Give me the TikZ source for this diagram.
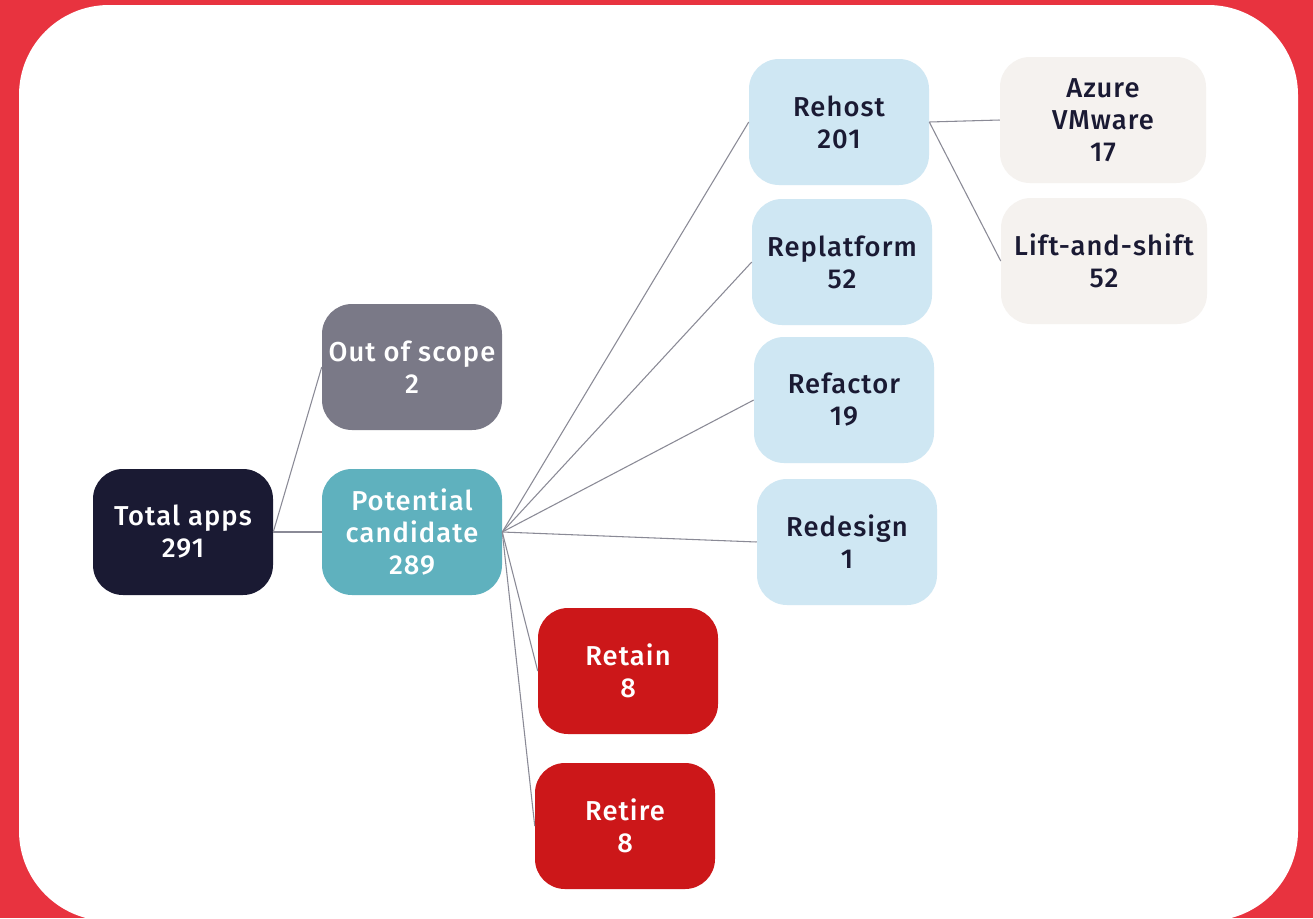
\documentclass[tikz,border=0pt]{standalone}
\usepackage{fontspec}
\setmainfont{Fira Sans}[UprightFont=* Medium, BoldFont=* SemiBold, LetterSpace=4]
\usepackage{tikz}

\definecolor{bgred}{HTML}{E8333F}
\definecolor{navy}{HTML}{1A1A33}
\definecolor{slate}{HTML}{7A7987}
\definecolor{teal}{HTML}{5FB1BE}
\definecolor{paleblue}{HTML}{CFE7F3}
\definecolor{cream}{HTML}{F5F2EF}
\definecolor{boxred}{HTML}{CC1719}
\definecolor{linegrey}{HTML}{8A8A96}

\tikzset{
	box/.style={rounded corners=22.5pt, minimum width=135pt, minimum height=94.5pt,
		align=center, inner sep=2pt, font=\fontsize{20.5}{24}\selectfont},
	darkbox/.style={box, fill=navy, text=white},
	greybox/.style={box, fill=slate, text=white},
	tealbox/.style={box, fill=teal, text=white},
	bluebox/.style={box, fill=paleblue, text=navy},
	creambox/.style={box, fill=cream, text=navy, minimum width=154.5pt},
	redbox/.style={box, fill=boxred, text=white},
	link/.style={draw=linegrey, line width=0.8pt}
}

\begin{document}
\begin{tikzpicture}[x=0.75pt, y=-0.75pt]
	\useasboundingbox (0,0) rectangle (1313,918);
	\fill [bgred] (0,0) rectangle (1313,918);
	\fill [white, rounded corners=67.5pt] (19,5) rectangle (1298,921);

	\node at (183,532) [darkbox] (total) {Total apps\\291};
	\node at (412,367) [greybox] (scope) {Out of scope\\2};
	\node at (412,532) [tealbox] (cand) {Potential\\candidate\\289};
	\node at (839,122) [bluebox] (rehost) {Rehost\\201};
	\node at (842,262) [bluebox] (replat) {Replatform\\52};
	\node at (844,400) [bluebox] (refac) {Refactor\\19};
	\node at (847,542) [bluebox] (redes) {Redesign\\1};
	\node at (628,671) [redbox] (retain) {Retain\\8};
	\node at (625,826) [redbox] (retire) {Retire\\8};
	\node at (1103,120) [creambox] (azure) {Azure\\VMware\\17};
	\node at (1104,261) [creambox] (lift) {Lift-and-shift\\52};

	\draw [link] (total.east) -- (scope.west);
	\draw [link] (total.east) -- (cand.west);
	\draw [link] (cand.east) -- (rehost.west);
	\draw [link] (cand.east) -- (replat.west);
	\draw [link] (cand.east) -- (refac.west);
	\draw [link] (cand.east) -- (redes.west);
	\draw [link] (cand.east) -- (retain.west);
	\draw [link] (cand.east) -- (retire.west);
	\draw [link] (rehost.east) -- (azure.west);
	\draw [link] (rehost.east) -- (lift.west);
\end{tikzpicture}
\end{document}
